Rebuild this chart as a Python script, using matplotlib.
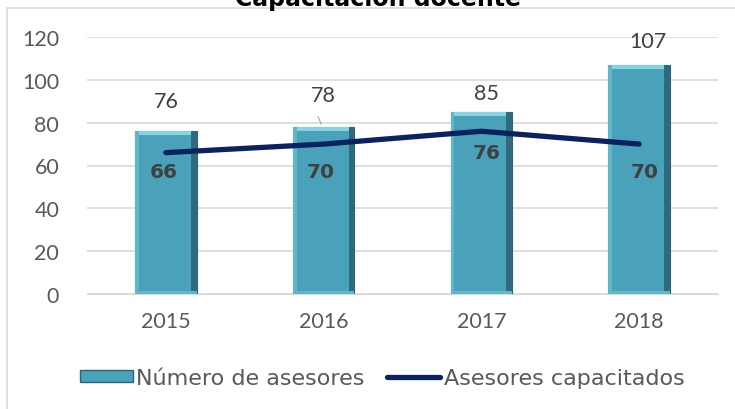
import numpy as np
import matplotlib.pyplot as plt
from matplotlib.patches import Patch
from matplotlib.lines import Line2D

plt.rcParams['font.family'] = ['Lato', 'DejaVu Sans']

# ── Data ──────────────────────────────────────────────────────────────────────
years = ["2015", "2016", "2017", "2018"]
asesores = [76, 78, 85, 107]
capacitados = [66, 70, 76, 70]

# label offsets in pixels (bar labels above, line labels below)
bar_lbl_off = [(0, 30), (0, 32), (5, 19), (9, 24)]
line_lbl_off = [(-2, -19), (-3, -27), (5, -21), (5, -27)]

bar_col = "#4aa2ba"
line_col = "#0b2260"
txt_col = "#595959"

# ── Figure ────────────────────────────────────────────────────────────────────
fig = plt.figure(figsize=(7.35, 4.1), dpi=100)
ax = fig.add_axes([87 / 735, 1 - 295 / 410, 631 / 735, 257 / 410])

x = np.arange(len(years))
w = 0.39
ax.bar(x, asesores, width=w, color=bar_col, edgecolor="#2d6475", linewidth=0.8, zorder=2)
# simple bevel: light top strip, dark right strip, lighter left/bottom strips
vals = np.array(asesores, dtype=float)
ax.bar(x, 1.8, bottom=vals - 1.8, width=w, color="#86d3e3", linewidth=0, zorder=3)
ax.bar(x + w / 2 - 0.018, vals, width=0.036, color="#2f6b7c", linewidth=0, zorder=3)
ax.bar(x - w / 2 + 0.012, vals, width=0.024, color="#62b6ca", linewidth=0, zorder=3)
ax.bar(x, 1.4, bottom=0, width=w, color="#62b6ca", linewidth=0, zorder=3)

ax.plot(x, capacitados, color=line_col, linewidth=3.8, solid_capstyle="round", zorder=4)

for i, v in enumerate(asesores):
    ax.annotate(str(v), (x[i], v), xytext=bar_lbl_off[i], textcoords="offset pixels",
                ha="center", va="center", fontsize=15.5, color="#404040", zorder=5)
ax.annotate("", (x[1] - 0.01, asesores[1]), xytext=(x[1] - 0.04, asesores[1] + 6),
            arrowprops=dict(arrowstyle="-", color="#a6a6a6", lw=0.8))
for i, v in enumerate(capacitados):
    ax.annotate(str(v), (x[i], v), xytext=line_lbl_off[i], textcoords="offset pixels",
                ha="center", va="center", fontsize=14.5, fontweight="bold",
                family="DejaVu Sans", color="#404040", zorder=5)

ax.set_xlim(-0.5, 3.5)
ax.set_ylim(0, 120)
ax.set_yticks(range(0, 121, 20))
ax.set_xticks(x)
ax.set_xticklabels(years)
ax.grid(axis="y", color="#d9d9d9", linewidth=1.2, zorder=0)
ax.set_axisbelow(True)
for s in ax.spines.values():
    s.set_visible(False)
ax.spines["bottom"].set_visible(True)
ax.spines["bottom"].set_color("#d9d9d9")
ax.tick_params(length=0, labelsize=15.5, colors=txt_col, pad=20)
ax.tick_params(axis="x", pad=12)

handles = [Patch(facecolor=bar_col, edgecolor="#2d6475", label="Número de asesores"),
           Line2D([0], [0], color=line_col, linewidth=3.8, solid_capstyle="round",
                  label="Asesores capacitados")]
fig.legend(handles=handles, loc="center", bbox_to_anchor=(382 / 735, 1 - 379 / 410),
           ncol=2, frameon=False, prop={"family": "DejaVu Sans", "size": 16},
           labelcolor=txt_col, handlelength=2.4, handletextpad=0.15,
           columnspacing=1.0, handleheight=0.5)

# outer chart border (top and left visible)
fig.add_artist(plt.Line2D([7 / 735, 7 / 735, 1], [0, 1 - 9 / 410, 1 - 9 / 410],
                          transform=fig.transFigure, color="#d9d9d9", linewidth=1.2))

fig.text(378 / 735, 1 - 6 / 410, "Capacitación docente", ha="center", va="baseline",
         fontsize=17, fontweight="bold", family="DejaVu Sans", color="black")

fig.savefig("out.png", dpi=100)
